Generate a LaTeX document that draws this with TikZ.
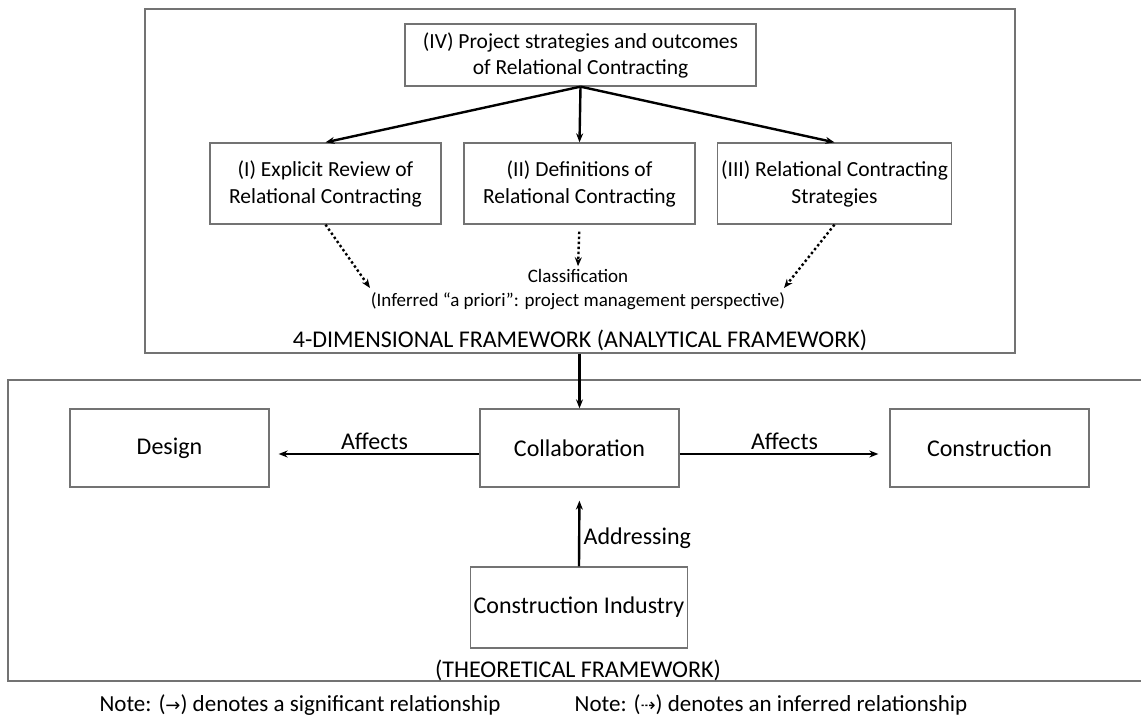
\documentclass[tikz,border=0pt]{standalone}
\usepackage{fontspec}
\setmainfont{Carlito}
\newfontfamily\symfont{DejaVu Sans}
\usetikzlibrary{arrows.meta, positioning}
\tikzset{
  box/.style={rectangle, draw=black!55, line width=1.3pt,
              align=center, font=\fontsize{24}{26}\selectfont},
  dimbox/.style={box, minimum width=231pt, minimum height=81pt,
                 font=\fontsize{21.5}{27}\selectfont},
  thbox/.style={box, minimum width=199pt, minimum height=78pt},
  frame/.style={rectangle, draw=black!55, line width=1.3pt},
  lbl/.style={font=\fontsize{24}{26}\selectfont},
  notelbl/.style={font=\fontsize{23}{26}\selectfont},
  small/.style={font=\fontsize{19}{24}\selectfont, align=center},
  arr/.style={-{Stealth[length=9pt,width=7pt]}, line width=2.4pt},
  infarr/.style={arr, dash pattern=on 2.4pt off 2.6pt},
}

\begin{document}
\begin{tikzpicture}[x=1pt, y=-1pt]

  \useasboundingbox (0,0) rectangle (1141,720);

  % analytical framework
  \node[frame, minimum width=870pt, minimum height=344pt] (analytical) at (580,181) {};
  \node[dimbox, minimum width=351pt, minimum height=62pt, font=\fontsize{21.5}{26}\selectfont] (iv) at (580.5,55)
    {(IV) Project strategies and outcomes\\of Relational Contracting};
  \node[dimbox] (rc1) at (325.5,183.5) {(I) Explicit Review of\\Relational Contracting};
  \node[dimbox] (rc2) at (579.5,183.5) {(II) Definitions of\\Relational Contracting};
  \node[dimbox] (rc3) at (834.5,183.5) {(III) Relational Contracting\\Strategies};
  \node[small] (class) at (578,290)
    {Classification\\(Inferred “a priori”: project management perspective)};
  \node[lbl] (dimlabel) at (580,340) {4-DIMENSIONAL FRAMEWORK (ANALYTICAL FRAMEWORK)};

  \coordinate (inL) at (370,288);
  \coordinate (inR) at (784,288);

  \draw[arr] (iv.south) -- (rc1.north);
  \draw[arr] (iv.south) -- (rc2.north);
  \draw[arr] (iv.south) -- (rc3.north);

  \draw[infarr] (rc1.south) -- (inL);
  \draw[infarr, shorten <=7pt] (rc2.south) -- (class.north);
  \draw[infarr] (rc3.south) -- (inR);

  % theoretical framework
  \node[frame, minimum width=1150pt, minimum height=301pt] (theoretical) at (583,530.5) {};
  \node[thbox] (collab) at (579.5,448) {Collaboration};
  \node[thbox] (design) at (169.5,448) {Design};
  \node[thbox] (constr) at (989.5,448) {Construction};
  \node[box, minimum width=216pt, minimum height=81pt] (industry) at (579,607.5)
    {Construction Industry};
  \node[lbl] (thlabel) at (578,670.5) {(THEORETICAL FRAMEWORK)};

  \draw[arr] (analytical.south -| collab.north) -- (collab.north);
  \draw[arr, shorten >=9pt] ([yshift=-6pt]collab.west) -- ([yshift=-6pt]design.east)
    node[midway, above, lbl] {Affects};
  \draw[arr, shorten >=11pt] ([yshift=-6pt]collab.east) -- ([yshift=-6pt]constr.west)
    node[midway, above, lbl] {Affects};
  \draw[arr, shorten >=13pt] (industry.north) -- (collab.south)
    node[pos=0.36, right, lbl] {Addressing};

  % notes
  \node[notelbl] (note1) at (300,705) {Note: ({\symfont\fontsize{18}{20}\selectfont →}) denotes a significant relationship};
  \node[notelbl] (note2) at (771,705) {Note: ({\symfont\fontsize{18}{20}\selectfont ⇢}) denotes an inferred relationship};

\end{tikzpicture}
\end{document}
